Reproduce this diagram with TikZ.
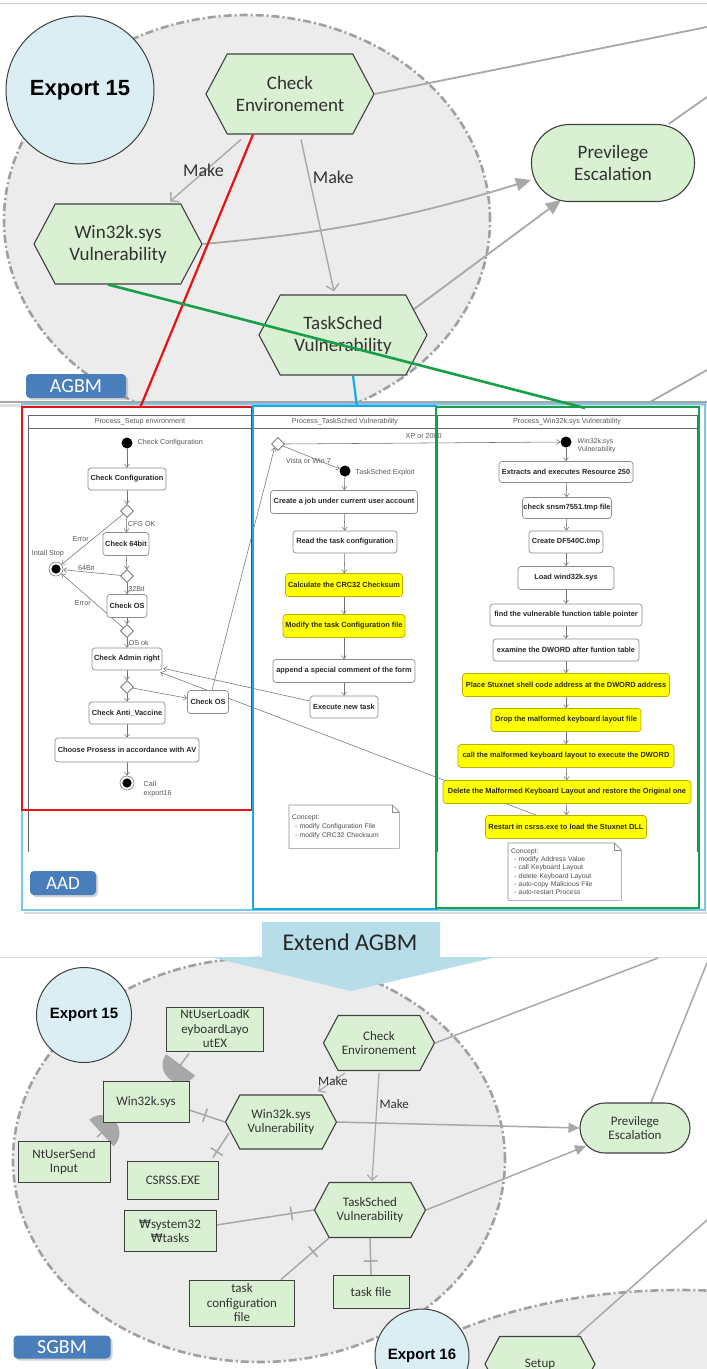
\documentclass[tikz,border=0pt]{standalone}
\usepackage{fontspec}
\setmainfont{Carlito}
\newfontfamily\boldfont{Liberation Sans}
\newfontfamily\actfont{Liberation Sans}
\newfontfamily\wonfont{DejaVu Sans}
\usetikzlibrary{arrows.meta,shapes.symbols,shapes.geometric,calc,shadows}
\pgfdeclarelayer{back}
\pgfdeclarelayer{bg}
\pgfdeclarelayer{front}
\pgfsetlayers{back,bg,main,front}
\definecolor{gfill}{RGB}{217,241,210}
\definecolor{bfill}{RGB}{219,238,244}
\definecolor{area}{RGB}{236,236,236}
\definecolor{dashc}{RGB}{160,160,160}
\definecolor{connc}{RGB}{168,168,168}
\definecolor{edge}{RGB}{64,64,64}
\definecolor{txt}{RGB}{50,50,50}
\definecolor{lblc}{RGB}{74,126,187}
\definecolor{extc}{RGB}{183,221,232}
\definecolor{redl}{RGB}{232,16,16}
\definecolor{bluel}{RGB}{22,170,232}
\definecolor{greenl}{RGB}{24,160,72}
\definecolor{aadl}{RGB}{120,200,235}
\definecolor{hl}{RGB}{255,255,0}
\definecolor{hlb}{RGB}{190,170,0}
\definecolor{actb}{RGB}{140,140,140}
\definecolor{acttxt}{RGB}{40,40,40}
\newcommand\fTop{\fontsize{19}{22}\selectfont}
\newcommand\fBot{\fontsize{13}{14.5}\selectfont}
\newcommand\fAct{\actfont\bfseries\fontsize{7.4}{8.4}\selectfont}
\newcommand\fSm{\actfont\fontsize{7.2}{8.2}\selectfont}
\begin{document}
\begin{tikzpicture}[x=1pt,y=-1pt,
  hexa/.style={signal, signal to=west and east, signal pointer angle=124, draw=edge, fill=gfill, line width=1.1pt, inner sep=0pt, align=center, text=txt},
  stad/.style={rectangle, rounded corners=#1, draw=edge, fill=gfill, line width=1.1pt, inner sep=0pt, align=center, text=txt},
  gbox/.style={rectangle, draw=edge, fill=gfill, line width=0.9pt, inner sep=0pt, align=center, text=txt, font=\fBot},
  expc/.style={circle, draw=edge, fill=bfill, line width=1pt, inner sep=0pt, text=black},
  lbl/.style={rectangle, rounded corners=4pt, fill=lblc, text=white, inner sep=0pt, drop shadow={shadow xshift=2pt, shadow yshift=-2pt, opacity=0.35}},
  conn/.style={draw=connc, line width=1.8pt},
  conn2/.style={draw=connc, line width=1.5pt},
  carr/.style={conn, -{Triangle[length=15pt,width=13pt]}},
  carr2/.style={conn2, -{Triangle[length=11pt,width=10pt]}},
  marr/.style={draw=connc, line width=1.4pt, -{Straight Barb[length=6pt,width=13pt]}},
  marr2/.style={draw=connc, line width=1.2pt, -{Straight Barb[length=5pt,width=10pt]}},
  mklbl/.style={font=\fontsize{18}{20}\selectfont, text=txt, inner sep=1pt},
  mklbl2/.style={font=\fontsize{13}{14}\selectfont, text=txt, inner sep=1pt},
  tick/.style={rectangle, draw=connc, line width=1.6pt, minimum width=0pt, minimum height=14pt, inner sep=0pt, sloped},
  sock/.style={semicircle, fill=connc, draw=none, minimum size=18pt, inner sep=0pt, anchor=chord center, sloped, allow upside down, rotate=-90},
  act/.style={rectangle, rounded corners=3pt, draw=actb, fill=white, line width=0.7pt, inner sep=0pt, font=\fAct, text=acttxt, minimum height=22pt},
  acty/.style={act, fill=hl, draw=hlb},
  ini/.style={circle, fill=black, minimum size=11pt, inner sep=0pt},
  fin/.style={circle, draw=black!50, fill=white, line width=0.6pt, minimum size=14pt, inner sep=0pt, path picture={\fill[black] (path picture bounding box.center) circle (4.6pt);}},
  dec/.style={diamond, draw=black!60, fill=white, line width=0.6pt, minimum width=13pt, minimum height=13pt, inner sep=0pt},
  aarr/.style={draw=black!55, line width=0.55pt, -{Straight Barb[length=3.2pt,width=5pt]}},
  slab/.style={font=\fSm, text=black!65, inner sep=0.5pt},
  notebox/.style={rectangle, draw=none, inner sep=3pt, align=left, text=black!70},
  noteline/.style={draw=black!45, line width=0.6pt},
  umlf/.style={draw=black!60, line width=0.7pt},
]
\useasboundingbox (0,0) rectangle (707,1369);

% ---------- backgrounds ----------
\begin{pgfonlayer}{back}
  \fill[white] (0,0) rectangle (707,1369);
  \begin{scope}
    \clip (0,0) rectangle (707,402);
    \draw[fill=area, draw=dashc, line width=2.6pt, dash pattern=on 8pt off 3pt on 2pt off 3pt] (247,220) ellipse [x radius=243pt, y radius=205pt];
  \end{scope}
  \draw[fill=area, draw=dashc, line width=2.6pt, dash pattern=on 8pt off 3pt on 2pt off 3pt] (259,1160) ellipse [x radius=246pt, y radius=202pt];
  \draw[fill=area, draw=dashc, line width=2.6pt, dash pattern=on 8pt off 3pt on 2pt off 3pt] (680,1480) ellipse [x radius=360pt, y radius=190pt];
  \draw[gray!35, line width=1pt] (0,3) -- (707,3);
  \draw[gray!25, line width=3pt] (0,405) -- (707,405);
  \draw[gray!70, line width=1.5pt] (0,402) -- (707,402);
  \draw[gray!30, line width=2.5pt] (24,913) -- (707,913);
  \draw[gray!30, line width=1pt] (0,957) -- (707,957);
\end{pgfonlayer}

% ---------- AGBM (top) ----------
\node[expc, minimum size=148pt, font=\boldfont\bfseries\fontsize{22}{24}\selectfont] (e15a) at (80,90) {Export 15};
\node[hexa, minimum width=168pt, minimum height=80pt, font=\fTop] (cea) at (290,94) {Check\\Environement};
\node[hexa, minimum width=168pt, minimum height=80pt, font=\fTop] (wva) at (118,244) {Win32k.sys\\Vulnerability};
\node[hexa, minimum width=168pt, minimum height=80pt, font=\fTop] (tva) at (343,335) {TaskSched\\Vulnerability};
\node[stad=38pt, minimum width=163pt, minimum height=77pt, font=\fTop] (pea) at (613,163) {Previlege\\Escalation};
\node[lbl, minimum width=100pt, minimum height=24pt, font=\fontsize{20}{22}\selectfont] (agbm) at (76,386) {AGBM};

\coordinate (oa1) at (707,27);
\coordinate (oa2) at (707,97);
\coordinate (oa3) at (650,402);
\coordinate (oa4) at (707,370);
\begin{pgfonlayer}{bg}
  \draw[conn] (cea.east) -- (oa1);
  \draw[conn] (pea.35) -- (oa2);
  \draw[conn] (oa3) -- (oa4);
  \draw[carr] (wva.east) to[bend right=6] ($(pea.west)+(0,17)$);
  \draw[carr] (tva.20) -- ($(pea.center)+(-52,37)$);
  \draw[marr] ($(cea.south)+(-49,5)$) -- node[mklbl, pos=0.5, xshift=-2pt]{Make} ($(wva.north)+(52,-2)$);
  \draw[marr] ($(cea.south)+(11,5)$) -- node[mklbl, pos=0.25, anchor=west, xshift=2pt]{Make} ($(tva.north)+(-9,-3)$);
\end{pgfonlayer}

% ---------- AAD ----------
\begin{pgfonlayer}{bg}
  \draw[umlf] (28,852) -- (28,415) -- (697,415) -- (697,852);
  \draw[umlf, line width=1pt] (28,428) -- (697,428);
  \draw[umlf] (252,415) -- (252,852);
  \draw[umlf] (437,415) -- (437,852);
\end{pgfonlayer}
\node[slab, font=\actfont\fontsize{7.2}{8}\selectfont] (h1) at (140,422) {Process\_Setup environment};
\node[slab, font=\actfont\fontsize{7.2}{8}\selectfont] (h2) at (345,422) {Process\_TaskSched Vulnerability};
\node[slab, font=\actfont\fontsize{7.2}{8}\selectfont] (h3) at (567,422) {Process\_Win32k.sys Vulnerability};

% left lane
\node[ini] (i1) at (127,443) {};
\node[slab, anchor=west] (i1l) at (137,443) {Check Configuration};
\node[act, minimum width=78pt] (a1) at (127,479) {Check Configuration};
\node[dec] (d1) at (127,511) {};
\node[act, minimum width=46pt, minimum height=23pt] (a2) at (126,544) {Check 64bit};
\node[fin] (f1) at (56,569) {};
\node[slab] (f1l) at (48,554) {Intall Stop};
\node[dec] (d2) at (127,576) {};
\node[act, minimum width=40pt, minimum height=23pt] (a3) at (127,606) {Check OS};
\node[dec] (d3) at (127,631) {};
\node[act, minimum width=70pt] (a4) at (127,659) {Check Admin right};
\node[dec] (d4) at (127,687) {};
\node[act, minimum width=76pt] (a5) at (127,713) {Check Anti\_Vaccine};
\node[act, minimum width=144pt, minimum height=24pt] (a6) at (127,750) {Choose Prosess in accordance with AV};
\node[fin] (f2) at (127,783) {};
\node[slab, anchor=north west, align=left] (f2l) at (143,781) {Call\\export16};
\node[act, minimum width=41pt, minimum height=23pt] (a7) at (208,702) {Check OS};

% taskSched lane
\node[dec] (td) at (278,444) {};
\node[slab, anchor=west] (xpl) at (405,436) {XP or 2000};
\node[ini] (ti) at (345,471) {};
\node[slab, anchor=west] (til) at (355,473) {TaskSched Exploit};
\node[act, minimum width=147pt, minimum height=23pt] (t1) at (344,502) {Create a job under current user account};
\node[act, minimum width=104pt] (t2) at (345,542) {Read the task configuration};
\node[acty, minimum width=117pt, minimum height=23pt] (t3) at (344,585) {Calculate the CRC32 Checksum};
\node[acty, minimum width=122pt, minimum height=23pt] (t4) at (344,626) {Modify the task Configuration file};
\node[act, minimum width=142pt, minimum height=23pt] (t5) at (344,671) {append a special comment of the form};
\node[act, minimum width=68pt] (t6) at (344,707) {Execute new task};
\node[notebox, anchor=north west, text width=104pt, minimum height=43pt, font=\actfont\fontsize{6.8}{9}\selectfont] (tn) at (289,805) {Concept:\\\hspace*{3pt}- modify Configuration File\\\hspace*{3pt}- modify CRC32 Checksum};

% win32k lane
\node[ini] (wi) at (566,442) {};
\node[slab, anchor=west, align=left, font=\actfont\fontsize{7}{8}\selectfont] (wil) at (577,446) {Win32k.sys\\Vulnerability};
\node[act, minimum width=134pt, minimum height=21pt] (w1) at (566,472) {Extracts and executes Resource 250};
\node[act, minimum width=89pt, minimum height=21pt] (w2) at (567,508) {check snsm7551.tmp file};
\node[act, minimum width=74pt] (w3) at (566,542) {Create DF540C.tmp};
\node[act, minimum width=96pt, minimum height=23pt] (w4) at (566,578) {Load wind32k.sys};
\node[act, minimum width=152pt] (w5) at (566,615) {find the vulnerable function table pointer};
\node[act, minimum width=146pt] (w6) at (566,650) {examine the DWORD after funtion table};
\node[acty, minimum width=207pt, minimum height=23pt] (w7) at (566,685) {Place Stuxnet shell code address at the DWORD address};
\node[acty, minimum width=150pt, minimum height=23pt] (w8) at (566,720) {Drop the malformed keyboard layout file};
\node[acty, minimum width=216pt, minimum height=23pt] (w9) at (566,756) {call the malformed keyboard layout to execute the DWORD};
\node[acty, minimum width=248pt, minimum height=23pt] (w10) at (567,792) {Delete the Malformed Keyboard Layout and restore the Original one};
\node[acty, minimum width=161pt, minimum height=23pt] (w11) at (566,827) {Restart in csrss.exe to load the Stuxnet DLL};
\node[notebox, anchor=north west, text width=107pt, minimum height=57pt, font=\actfont\fontsize{6.8}{8.3}\selectfont] (wn) at (508,843) {Concept:\\\hspace*{3pt}- modify Address Value\\\hspace*{3pt}- call Keyboard Layout\\\hspace*{3pt}- delete Keyboard Layout\\\hspace*{3pt}- auto-copy Malicious File\\\hspace*{3pt}- auto-restart Process};

\node[lbl, minimum width=66pt, minimum height=24pt, font=\fontsize{19}{21}\selectfont] (aad) at (63,883) {AAD};

\begin{pgfonlayer}{bg}
  % note outlines
  \draw[noteline] (tn.north west) -- ([xshift=-7pt]tn.north east) -- ([yshift=-7pt]tn.north east) -- (tn.south east) -- (tn.south west) -- cycle;
  \draw[noteline] ([xshift=-7pt]tn.north east) -- ([xshift=-7pt,yshift=-7pt]tn.north east) -- ([yshift=-7pt]tn.north east);
  \draw[noteline] (wn.north west) -- ([xshift=-7pt]wn.north east) -- ([yshift=-7pt]wn.north east) -- (wn.south east) -- (wn.south west) -- cycle;
  \draw[noteline] ([xshift=-7pt]wn.north east) -- ([xshift=-7pt,yshift=-7pt]wn.north east) -- ([yshift=-7pt]wn.north east);
  % left lane flow
  \draw[aarr] (i1) -- (a1);
  \draw[aarr] (a1) -- (d1);
  \draw[aarr] (d1) -- node[slab, pos=0.45, anchor=west, xshift=0.5pt]{CFG OK} (a2);
  \draw[aarr] (d1) -- node[slab, pos=0.5, anchor=east, xshift=-3pt]{Error} (f1);
  \draw[aarr] (a2) -- (d2);
  \draw[aarr] (d2) -- node[slab, pos=0.6, above=1pt]{64Bit} (f1);
  \draw[aarr] (d2) -- node[slab, pos=0.5, anchor=west, xshift=0.5pt]{32Bit} (a3);
  \draw[aarr] (a3) -- (d3);
  \draw[aarr] (d3) -- node[slab, pos=0.45, anchor=east, xshift=-4pt]{Error} (f1);
  \draw[aarr] (d3) -- node[slab, pos=0.5, anchor=west, xshift=1pt]{OS ok} (a4);
  \draw[aarr] (a4) -- (d4);
  \draw[aarr] (d4) -- (a5);
  \draw[aarr] (d4) -- (a7);
  \draw[aarr] (a5) -- (a6);
  \draw[aarr] (a6) -- (f2);
  % cross lane
  \draw[aarr] ($(a7.north)+(4,0)$) -- (td.south west);
  \draw[aarr] ($(t6.west)+(0,-6)$) -- ($(a4.south east)+(1,-2)$);
  \draw[aarr] ($(w11.north west)+(51,0)$) -- ($(a4.south east)+(-2,2)$);
  % tasksched lane
  \draw[aarr] (td.east) -- (wi.west);
  \draw[aarr] (td) -- node[slab, pos=0.45, yshift=-5pt]{Vista or Win 7} (ti);
  \draw[aarr] (ti) -- (t1);
  \draw[aarr] (t1) -- (t2);
  \draw[aarr] (t2) -- (t3);
  \draw[aarr] (t3) -- (t4);
  \draw[aarr] (t4) -- (t5);
  \draw[aarr] (t5) -- (t6);
  % win32k lane
  \draw[aarr] (wi) -- (w1);
  \draw[aarr] (w1) -- (w2);
  \draw[aarr] (w2) -- (w3);
  \draw[aarr] (w3) -- (w4);
  \draw[aarr] (w4) -- (w5);
  \draw[aarr] (w5) -- (w6);
  \draw[aarr] (w6) -- (w7);
  \draw[aarr] (w7) -- (w8);
  \draw[aarr] (w8) -- (w9);
  \draw[aarr] (w9) -- (w10);
  \draw[aarr] (w10) -- (w11);
\end{pgfonlayer}

% ---------- Extend arrow ----------
\fill[extc] (262,922) -- (440,922) -- (440,957) -- (497,957) -- (351,991) -- (210,957) -- (262,957) -- cycle;
\node[font=\fontsize{24}{26}\selectfont, text=black!85] (ext) at (350,942) {Extend AGBM};

% ---------- SGBM (bottom) ----------
\node[expc, minimum size=95pt, font=\boldfont\bfseries\fontsize{15}{17}\selectfont] (e15b) at (84,1015) {Export 15};
\node[gbox, minimum width=97pt, minimum height=44pt] (nlk) at (215,1029) {NtUserLoadK\\eyboardLayo\\utEX};
\node[hexa, minimum width=111pt, minimum height=55pt, font=\fBot] (ceb) at (379,1043) {Check\\Environement};
\node[gbox, minimum width=86pt, minimum height=41pt] (w32) at (146,1102) {Win32k.sys};
\node[hexa, minimum width=111pt, minimum height=54pt, font=\fBot] (wvb) at (281,1122) {Win32k.sys\\Vulnerability};
\node[gbox, minimum width=92pt, minimum height=41pt] (nsi) at (64,1162) {NtUserSend\\Input};
\node[gbox, minimum width=91pt, minimum height=38pt] (csr) at (173,1180) {CSRSS.EXE};
\node[stad=25pt, minimum width=110pt, minimum height=50pt, font=\fBot] (peb) at (635,1128) {Previlege\\Escalation};
\node[hexa, minimum width=111pt, minimum height=55pt, font=\fBot] (tvb) at (370,1210) {TaskSched\\Vulnerability};
\node[gbox, minimum width=92pt, minimum height=41pt] (s32) at (170,1231) {{\wonfont\fontsize{12}{14.5}\selectfont ₩}system32\\{\wonfont\fontsize{12}{14.5}\selectfont ₩}tasks};
\node[gbox, minimum width=105pt, minimum height=46pt] (tcf) at (242,1303) {task\\configuration\\file};
\node[gbox, minimum width=76pt, minimum height=33pt] (tfl) at (371,1292) {task file};
\node[expc, minimum size=94pt, font=\boldfont\bfseries\fontsize{15}{17}\selectfont] (e16) at (422,1356) {Export 16};
\node[hexa, minimum width=110pt, minimum height=55pt, font=\fBot] (stp) at (540,1364) {Setup};
\node[lbl, minimum width=97pt, minimum height=23pt, font=\fontsize{20}{22}\selectfont] (sgbm) at (62,1347) {SGBM};

\coordinate (ob1) at (658,958);
\coordinate (ob2) at (707,963);
\coordinate (ob3) at (707,1220);
\begin{pgfonlayer}{bg}
  \draw[conn2] (ceb.east) -- (ob1);
  \draw[conn2] ($(peb.north)+(16,0)$) -- (ob2);
  \draw[conn2] ($(stp.north)+(37,0)$) -- (ob3);
  \draw[carr2] (wvb.east) -- (peb.west);
  \draw[carr2] (tvb.east) -- ($(peb.center)+(-49,18)$);
  \draw[marr2] ($(ceb.south)+(-34,2)$) -- node[mklbl2, pos=0.45]{Make} ($(wvb.north)+(37,-3)$);
  \draw[marr2] ($(ceb.south)+(0,2)$) -- node[mklbl2, pos=0.29, anchor=west, xshift=1pt]{Make} ($(tvb.north)+(2,-1)$);
  \draw[conn2] ($(nlk.south west)+(23,2)$) -- node[sock, pos=0.42]{} ($(w32.north)+(24,-2)$);
  \draw[conn2] ($(nsi.north)+(33,-4)$) -- node[sock, pos=0.25]{} ($(w32.south west)+(10,0)$);
  \draw[conn2] ($(w32.east)+(0,8)$) -- node[tick, pos=0.44]{} (wvb.west);
  \draw[conn2] ($(csr.north east)+(-6,-3)$) -- node[tick, pos=0.24]{} ($(wvb.center)+(-52,11)$);
  \draw[conn2] ($(s32.east)+(0,-6)$) -- node[tick, pos=0.77]{} (tvb.west);
  \draw[conn2] ($(tcf.north east)+(-14,0)$) -- node[tick, pos=0.67]{} ($(tvb.center)+(-41,28)$);
  \draw[conn2] (tfl.north) -- node[tick, pos=0.38]{} (tvb.south);
\end{pgfonlayer}

% ---------- coloured highlight boxes and links ----------
\coordinate (redtop) at (140,408);
\coordinate (bluetop) at (357,407);
\coordinate (greentop) at (585,408);
\begin{pgfonlayer}{front}
  \draw[aadl, line width=1.3pt] (22,404) rectangle (705,910);
  \draw[redl, line width=2.2pt] (22,407) rectangle (252,810);
  \draw[bluel, line width=2.2pt] (253,406) rectangle (436,909);
  \draw[greenl, line width=2.2pt] (436,407) rectangle (699,908);
  \draw[redl, line width=2.2pt] ($(cea.south)+(-37,0)$) -- (redtop);
  \draw[greenl, line width=2.6pt] ($(wva.south)+(-10,0)$) -- (greentop);
  \draw[bluel, line width=2.2pt] ($(tva.south)+(10,0)$) -- (bluetop);
\end{pgfonlayer}
\end{tikzpicture}
\end{document}
